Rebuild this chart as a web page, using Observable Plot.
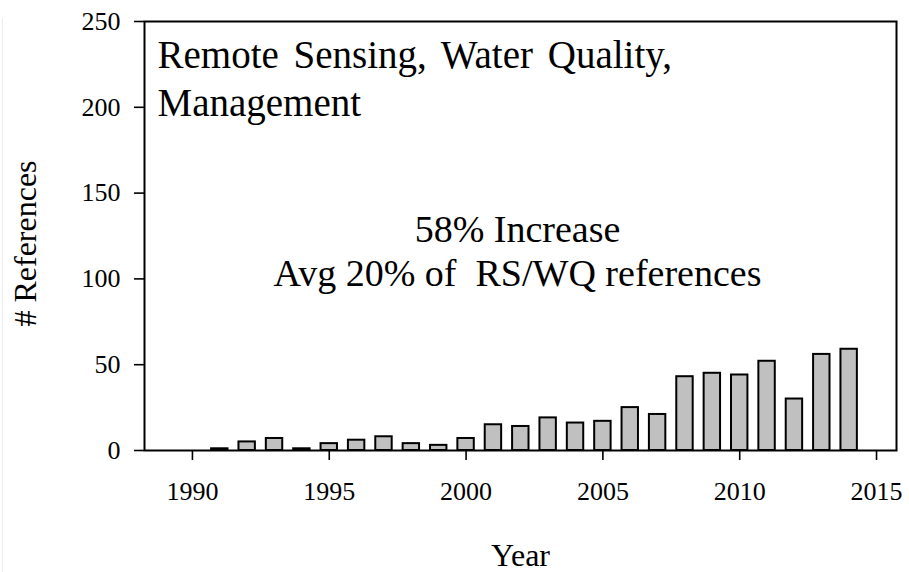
<!DOCTYPE html>
<html>
<head>
<meta charset="utf-8">
<script src="https://cdn.jsdelivr.net/npm/d3@7"></script>
<script src="https://cdn.jsdelivr.net/npm/@observablehq/plot@0.6"></script>
<style>
  html, body { margin: 0; padding: 0; background: #ffffff; }
  #chart { position: relative; }
  #chart svg { display: block; }
  #chart::before {
    content: ""; position: absolute; left: 2px; top: 18px; bottom: 0;
    width: 1px; background: #ececec;
  }
</style>
</head>
<body>
<div id="chart"></div>
<script>
// ---- data ----
const years  = [1991, 1992, 1993, 1994, 1995, 1996, 1997, 1998, 1999, 2000,
                2001, 2002, 2003, 2004, 2005, 2006, 2007, 2008, 2009, 2010,
                2011, 2012, 2013, 2014];
const counts = [1, 5, 7, 1, 4, 6, 8, 4, 3, 7,
                15, 14, 19, 16, 17, 25, 21, 43, 45, 44,
                52, 30, 56, 59];
const yTicks = [0, 50, 100, 150, 200, 250];
const xTicks = [1990, 1995, 2000, 2005, 2010, 2015];
const titleLines = ["Remote Sensing, Water Quality,", "Management"];
const noteLines  = ["58% Increase", "Avg 20% of  RS/WQ references"];
const xLabel = "Year";
const yLabel = "# References";

const data = years.map((year, i) => ({year, count: counts[i]}));
const half = 0.3;

const serif = "'Liberation Serif', 'Times New Roman', Times, serif";

const chart = Plot.plot({
  width: 909,
  height: 572,
  marginLeft: 144,
  marginRight: 13,
  marginTop: 21,
  marginBottom: 122,
  style: {fontFamily: serif, fontSize: "26px", color: "#000", background: "#fff"},
  x: {domain: [1988.248, 2015.73], axis: null},
  y: {domain: [0, 250], axis: null},
  marks: [
    Plot.rectY(data, {
      x1: d => d.year - half,
      x2: d => d.year + half,
      y1: 0,
      y2: "count",
      fill: "#c0c0c0",
      stroke: "#000",
      strokeWidth: 2
    }),
    Plot.frame({stroke: "#000", strokeWidth: 2}),
    Plot.axisY({
      ticks: yTicks, tickSize: 10, tickPadding: 14, strokeWidth: 1.6,
      fontSize: 26, tickFormat: d => String(d), label: null
    }),
    Plot.axisX({
      ticks: xTicks, tickSize: 10, tickPadding: 21, strokeWidth: 1.6,
      fontSize: 26, tickFormat: d => String(d), label: null
    }),
    Plot.text([titleLines.join("\n")], {
      frameAnchor: "top-left", textAnchor: "start", lineAnchor: "bottom",
      dx: 13, dy: 94, fontSize: 39, lineHeight: 48 / 39, fill: "#000"
    }),
    Plot.text([noteLines.join("\n")], {
      frameAnchor: "top", textAnchor: "middle", lineAnchor: "bottom",
      dx: -3, dy: 264, fontSize: 38, lineHeight: 44 / 38, fill: "#000"
    }),
    Plot.text([xLabel], {
      frameAnchor: "bottom", textAnchor: "middle", lineAnchor: "bottom",
      dy: 115, fontSize: 32, fill: "#000"
    }),
    Plot.text([yLabel], {
      frameAnchor: "left", textAnchor: "middle", lineAnchor: "middle",
      rotate: -90, dx: -119, dy: 7.5, fontSize: 32, fill: "#000"
    })
  ]
});

// slightly wider word spacing of the title block, as in the original figure
d3.select(chart).selectAll("text")
  .filter(function () { return this.textContent.startsWith(titleLines[0]); })
  .style("word-spacing", "5px");

document.getElementById("chart").appendChild(chart);
</script>
</body>
</html>
